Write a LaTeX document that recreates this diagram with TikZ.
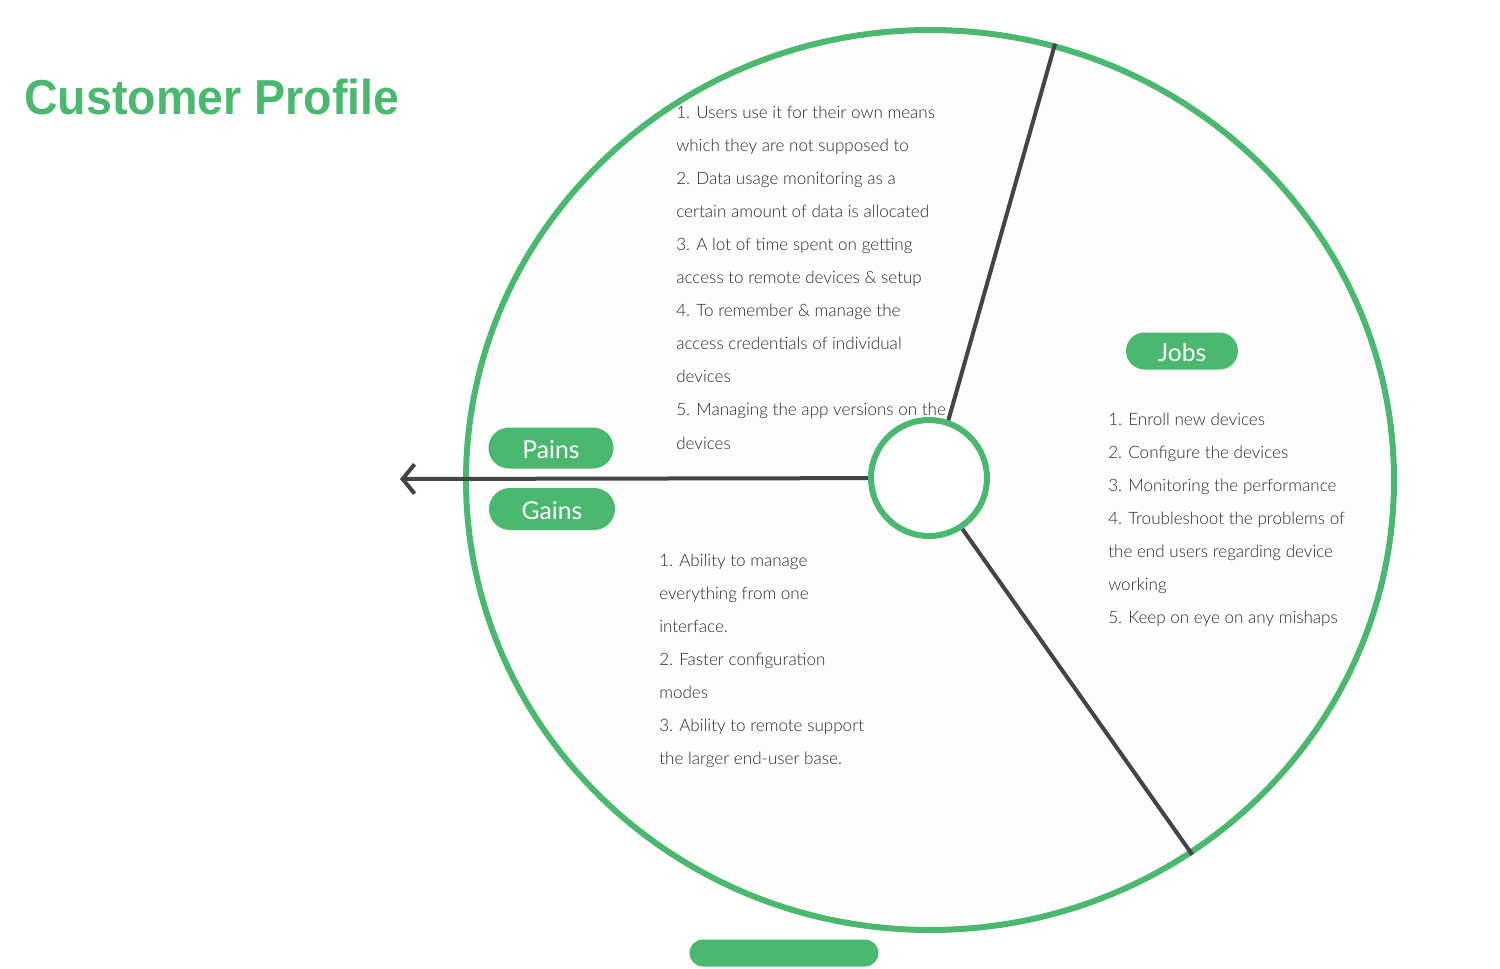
\documentclass[tikz,border=0pt]{standalone}
\usepackage{fontspec}
\setmainfont{Lato}[UprightFont={* Light}]
\newfontfamily\pillfont{Lato}
\newfontfamily\titlefont{Liberation Sans}[FakeStretch=0.95]
\usetikzlibrary{arrows.meta,shapes.geometric,shapes.misc}
\definecolor{grn}{HTML}{4BB870}
\definecolor{drk}{HTML}{444444}
\definecolor{txt}{HTML}{2A2A2A}
\definecolor{bgin}{HTML}{FDFDFD}
\tikzset{
  pill/.style={rounded rectangle, fill=grn, text=white, inner sep=0pt, text height=15.5pt, text depth=0pt, font=\pillfont\fontsize{18.5}{20}\selectfont},
  spoke/.style={draw=drk, line width=3pt},
  body/.style={anchor=base west, inner sep=0pt, text=txt, font=\fontsize{12.8}{14}\selectfont},
}
\begin{document}
\begin{tikzpicture}[x=0.75pt,y=-0.75pt]
\useasboundingbox (0,0) rectangle (1500,968);
\fill[white] (0,0) rectangle (1500,968);
% title
\node[anchor=base west, inner sep=0pt, text=grn, font=\titlefont\bfseries\fontsize{36.8}{40}\selectfont] (title) at (24,114) {Customer Profile};
% big ellipse
\node[ellipse, draw=grn, fill=bgin, line width=4.5pt, minimum width=696pt, minimum height=675pt, inner sep=0pt] (big) at (930,480) {};
% spokes
\node[circle, minimum size=87pt, inner sep=0pt, line width=4.5pt] (c) at (929,478) {};
\coordinate (tip) at (400,479);
\coordinate (s1) at (947,425);
\coordinate (s2) at (961,527);
\draw[spoke] (s1) -- (big.74.4);
\draw[spoke] (s2) -- (big.-55.1);
\draw[spoke, -{Straight Barb[length=9pt,width=22pt,line width=3pt]}] (c) -- (tip);
\node[circle, draw=grn, fill=white, minimum size=87pt, inner sep=0pt, line width=4.5pt] (cc) at (929,478) {};
% pills
\node[pill, minimum width=93.75pt, minimum height=30.75pt] (pains) at (551,448) {Pains};
\node[pill, minimum width=94.5pt, minimum height=31.5pt] (gains) at (552,509) {Gains};
\node[pill, minimum width=84pt, minimum height=27.75pt] (jobs) at (1182,351) {Jobs};
\node[pill, minimum width=141.75pt, minimum height=20.25pt, text height=0pt] (bottom) at (784,953) {};
% pains text
\foreach \t [count=\i] in {1. Users use it for their own means, which they are not supposed to, 2. Data usage monitoring as a, certain amount of data is allocated, 3. A lot of time spent on getting, access to remote devices \& setup, 4. To remember \& manage the, access credentials of individual, devices, 5. Managing the app versions on the, devices}
  \node[body] (p\i) at (676, 118+33.1*\i-33.1) {\t};
% gains text
\foreach \t [count=\i] in {1. Ability to manage, everything from one, interface., 2. Faster configuration, modes, 3. Ability to remote support, the larger end-user base.}
  \node[body] (g\i) at (659, 566+33.1*\i-33.1) {\t};
% jobs text
\foreach \t [count=\i] in {1. Enroll new devices, 2. Configure the devices, 3. Monitoring the performance, 4. Troubleshoot the problems of, the end users regarding device, working, 5. Keep on eye on any mishaps}
  \node[body] (j\i) at (1108, 425+33.1*\i-33.1) {\t};
\end{tikzpicture}
\end{document}
